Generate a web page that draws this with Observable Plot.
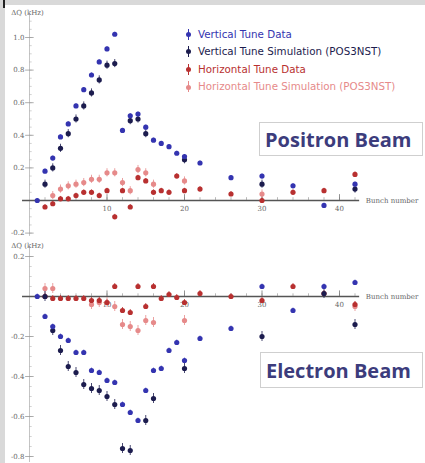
<!DOCTYPE html>
<html><head><meta charset="utf-8">
<script src="https://cdn.jsdelivr.net/npm/d3@7"></script>
<script src="https://cdn.jsdelivr.net/npm/@observablehq/plot@0.6"></script>
<style>
html,body{margin:0;padding:0;background:#d9d9d9;}
#wrap{position:relative;width:425px;height:463px;background:#d9d9d9;overflow:hidden;font-family:"DejaVu Sans",sans-serif;}
#panel{position:absolute;left:5px;top:5px;width:420px;height:458px;background:#fff;overflow:hidden}
#tick{position:absolute;left:3px;top:0;width:2px;height:8px;background:#222}
#top,#bot{position:absolute;left:0}
#top{top:0} #bot{top:235px}
.box{position:absolute;border:1px solid #cfcfcf;background:#fff;font-family:"Open Sans",sans-serif;font-weight:700;color:#3c3c7c;font-size:20px;line-height:34px;padding-left:5px;box-sizing:border-box;white-space:nowrap}
#legend{position:absolute;left:178px;top:20.5px;font-size:10.3px;}
#legend div{position:relative;height:17.6px;line-height:17.6px;padding-left:15px;white-space:nowrap}
#legend i{position:absolute;left:2.5px;top:6.3px;width:5px;height:5px;border-radius:50%}
#legend b{position:absolute;left:4.5px;top:3px;width:1px;height:11px}
</style></head>
<body>
<div id="wrap"><div id="tick"></div><div id="panel">
<div id="top"></div><div id="bot"></div>
<div id="legend"></div>
<div class="box" style="left:254px;top:117px;width:164px;height:34px">Positron Beam</div>
<div class="box" style="left:255px;top:347px;width:163px;height:36px;line-height:36px">Electron Beam</div>
</div></div>
<script>
// ---- data (bunch number, ΔQ in kHz) ----
const seriesNames = ["Vertical Tune Data","Vertical Tune Simulation (POS3NST)","Horizontal Tune Data","Horizontal Tune Simulation (POS3NST)"];
const seriesColors = ["#3434b0","#1c1c4e","#b83030","#e68a8a"];
const xTickValues = [10,20,30,40];
const topYTickValues = [-0.2,0.2,0.4,0.6,0.8,1.0];
const botYTickValues = [0.2,-0.2,-0.4,-0.6,-0.8];

// Positron beam
const posVertData = [[1,0],[2,0.18],[3,0.26],[4,0.39],[5,0.47],[6,0.58],[7,0.68],[8,0.77],[9,0.85],[10,0.93],[11,1.02],[12,0.43],[13,0.52],[14,0.53],[15,0.45],[16,0.37],[17,0.35],[18,0.33],[19,0.29],[20,0.27],[22,0.23],[26,0.14],[30,0.15],[34,0.09],[38,-0.03],[42,0.10]];
const posVertSim  = [[2,0.10],[3,0.20],[4,0.32],[5,0.41],[6,0.50],[7,0.58],[8,0.66],[9,0.74],[10,0.83],[11,0.84],[13,0.49],[14,0.50],[15,0.41],[20,0.25],[30,0.10],[42,0.07]];
const posHorData  = [[2,-0.04],[3,-0.02],[4,0.01],[5,0.01],[6,0.03],[7,0.05],[8,0.05],[9,0.03],[10,0.06],[11,-0.10],[12,0.06],[13,-0.04],[14,0.14],[15,0.12],[16,0.05],[17,0.06],[18,0.05],[19,0.15],[20,0.06],[22,0.07],[26,0.04],[30,0.0],[34,0.05],[38,0.06],[42,0.16]];
const posHorSim   = [[3,0.03],[4,0.07],[5,0.09],[6,0.10],[7,0.11],[8,0.13],[9,0.13],[10,0.17],[11,0.17],[12,0.11],[13,0.06],[14,0.19],[15,0.17],[16,0.10],[20,0.12],[30,0.04]];

// Electron beam
const eleVertData = [[1,0],[2,-0.10],[3,-0.15],[4,-0.20],[5,-0.22],[6,-0.28],[7,-0.28],[8,-0.37],[9,-0.38],[10,-0.42],[11,-0.43],[12,-0.54],[13,-0.58],[14,-0.62],[15,-0.47],[16,-0.37],[17,-0.36],[18,-0.27],[19,-0.23],[20,-0.32],[22,-0.21],[26,-0.16],[30,0.05],[34,-0.07],[38,0.05],[42,0.07]];
const eleVertSim  = [[2,0.0],[3,-0.17],[4,-0.27],[5,-0.35],[6,-0.38],[7,-0.44],[8,-0.46],[9,-0.47],[10,-0.50],[11,-0.54],[12,-0.76],[13,-0.77],[15,-0.62],[16,-0.51],[20,-0.36],[30,-0.20],[38,0.015],[42,-0.14]];
const eleHorData  = [[2,0.0],[3,-0.01],[4,-0.01],[5,-0.01],[6,-0.01],[7,-0.01],[8,-0.02],[9,-0.02],[10,-0.03],[11,0.05],[12,-0.07],[13,-0.08],[14,0.05],[15,-0.05],[16,0.05],[17,-0.01],[18,0.01],[19,-0.005],[20,-0.03],[22,0.015],[26,0.0],[30,-0.02],[34,0.05],[38,0.015],[42,-0.04]];
const eleHorSim   = [[2,0.04],[3,0.04],[8,-0.04],[9,-0.03],[10,-0.03],[11,-0.05],[12,-0.14],[13,-0.15],[14,-0.17],[15,-0.12],[16,-0.13],[20,-0.12],[42,-0.05]];
const errHalf = [0.012,0.025,0.015,0.025];
const drawOrder = [3,2,1,0];

// ---- legend ----
const leg = document.getElementById("legend");
seriesNames.forEach((n,i)=>{
  const d=document.createElement("div");
  d.style.color=seriesColors[i];
  d.innerHTML=`<b style="background:${seriesColors[i]}"></b><i style="background:${seriesColors[i]}"></i>${n}`;
  leg.appendChild(d);
});

function panel(series, yDomain, height, yTicks, yMinorStep, yTop, yBottom){
  const rows = [];
  drawOrder.forEach(i=> series[i].forEach(([b,v])=> rows.push({b, v, s:i})));
  const minor = d3.range(Math.ceil(yBottom/yMinorStep)*yMinorStep, yTop, yMinorStep).map(v=>+v.toFixed(3)).filter(v=>Math.abs(v)>1e-6);
  const xMinor = d3.range(2, 43, 2);
  const fmt = v => v.toFixed(1);
  const txt = {fontSize:7, fill:"#666", fontFamily:"DejaVu Serif, serif"};
  return Plot.plot({
    width:420, height, marginLeft:24, marginRight:8.5, marginTop:0, marginBottom:0,
    x:{domain:[0,50], axis:null},
    y:{domain:yDomain, axis:null},
    style:{background:"transparent", overflow:"visible"},
    marks:[
      Plot.ruleX([0], {y1:yBottom, y2:yTop, stroke:"#b5b5b5", strokeWidth:0.8}),
      Plot.ruleY(minor, {x1:0, x2:0.35, stroke:"#b5b5b5", strokeWidth:0.6}),
      Plot.ruleY(yTicks, {x1:-0.5, x2:0.6, stroke:"#999", strokeWidth:0.8}),
      Plot.text(yTicks, {x:0, y:d=>d, text:fmt, dx:-5, textAnchor:"end", ...txt}),
      Plot.text(["ΔQ (kHz)"], {x:0, y:yTop, text:d=>d, dy:-2, dx:-2, textAnchor:"middle", ...txt}),
      Plot.ruleY([0], {x1:-0.9, x2:42.6, stroke:"#555", strokeWidth:1.4}),
      Plot.ruleX(xMinor, {y1:0, y2:(yDomain[1]-yDomain[0])*0.012, stroke:"#888", strokeWidth:0.6}),
      Plot.ruleX(xTickValues, {y1:0, y2:(yDomain[1]-yDomain[0])*0.025, stroke:"#777", strokeWidth:0.8}),
      Plot.text(xTickValues, {x:d=>d, y:0, text:d=>String(d), dy:8, ...txt}),
      Plot.text(["Bunch number"], {x:43.4, y:0, text:d=>d, textAnchor:"start", ...txt}),
      Plot.ruleX(rows, {x:"b", y1:d=>d.v-errHalf[d.s], y2:d=>d.v+errHalf[d.s], stroke:d=>seriesColors[d.s], strokeWidth:1, strokeOpacity:0.8}),
      Plot.dot(rows, {x:"b", y:"v", r:2.6, fill:d=>seriesColors[d.s], stroke:"none"})
    ]
  });
}

const topEl = panel([posVertData,posVertSim,posHorData,posHorSim], [-40/163, 195/163], 235, topYTickValues, 0.05, 1.14, -0.22);
document.getElementById("top").appendChild(topEl);
const botEl = panel([eleVertData,eleVertSim,eleHorData,eleHorSim], [-0.835, 0.28], 223, botYTickValues, 0.05, 0.245, -0.83);
document.getElementById("bot").appendChild(botEl);
</script>
</body></html>
